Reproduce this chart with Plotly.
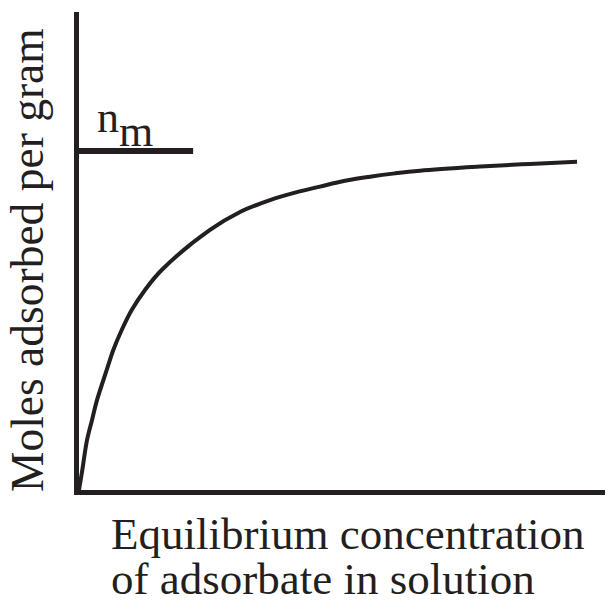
import plotly.graph_objects as go

# Data (arbitrary units; n_m = 1)
concentration = [0.0, 0.057, 0.152, 0.247, 0.342, 0.527, 0.652, 0.812, 1.002, 1.255,
                 1.572, 2.490, 3.061, 3.631, 4.106, 4.582, 5.057, 5.532, 6.008,
                 6.483, 7.624, 8.574, 9.468]
moles_adsorbed = [0.0, 0.053, 0.147, 0.206, 0.265, 0.354, 0.413, 0.472, 0.531, 0.590,
                  0.649, 0.767, 0.820, 0.855, 0.877, 0.895, 0.912, 0.924, 0.934,
                  0.942, 0.954, 0.962, 0.968]
nm_level = 1.0
nm_span = [0.0, 2.17]

INK = "#231f20"
FONT = "Liberation Serif, Times New Roman, serif"

fig = go.Figure()
fig.add_trace(go.Scatter(x=concentration, y=moles_adsorbed, mode="lines",
                         line=dict(color=INK, width=4, shape="spline", smoothing=1.0),
                         hoverinfo="skip", showlegend=False))
fig.add_trace(go.Scatter(x=nm_span, y=[nm_level, nm_level], mode="lines",
                         line=dict(color=INK, width=6),
                         hoverinfo="skip", showlegend=False))

fig.update_layout(
    width=606, height=601,
    margin=dict(l=79, r=1, t=12, b=111),
    paper_bgcolor="white", plot_bgcolor="white",
    xaxis=dict(range=[0, 10], showline=True, linecolor=INK, linewidth=5,
               showgrid=False, zeroline=False, showticklabels=False, ticks=""),
    yaxis=dict(range=[0, 1.41], showline=True, linecolor=INK, linewidth=5,
               showgrid=False, zeroline=False, showticklabels=False, ticks=""),
    font=dict(family=FONT, color=INK, size=45),
    annotations=[
        dict(text="Moles adsorbed per gram", xref="paper", yref="paper",
             x=-0.099, y=0.481, xanchor="center", yanchor="middle",
             textangle=-90, showarrow=False, font=dict(size=45.5)),
        dict(text="Equilibrium concentration", xref="paper", yref="paper",
             x=0.057, y=-0.092, xanchor="left", yanchor="middle",
             showarrow=False, font=dict(size=45)),
        dict(text="of adsorbate in solution", xref="paper", yref="paper",
             x=0.057, y=-0.187, xanchor="left", yanchor="middle",
             showarrow=False, font=dict(size=45)),
        dict(text="n", xref="paper", yref="paper",
             x=0.030, y=(490 - 118) / 478, xanchor="left", yanchor="middle",
             showarrow=False, font=dict(size=44)),
        dict(text="m", xref="paper", yref="paper",
             x=0.072, y=(490 - 131) / 478, xanchor="left", yanchor="middle",
             showarrow=False, font=dict(size=44)),
    ],
)

fig.write_html("out.html", config={"displayModeBar": False},
               post_script="document.body.style.margin='0';")
